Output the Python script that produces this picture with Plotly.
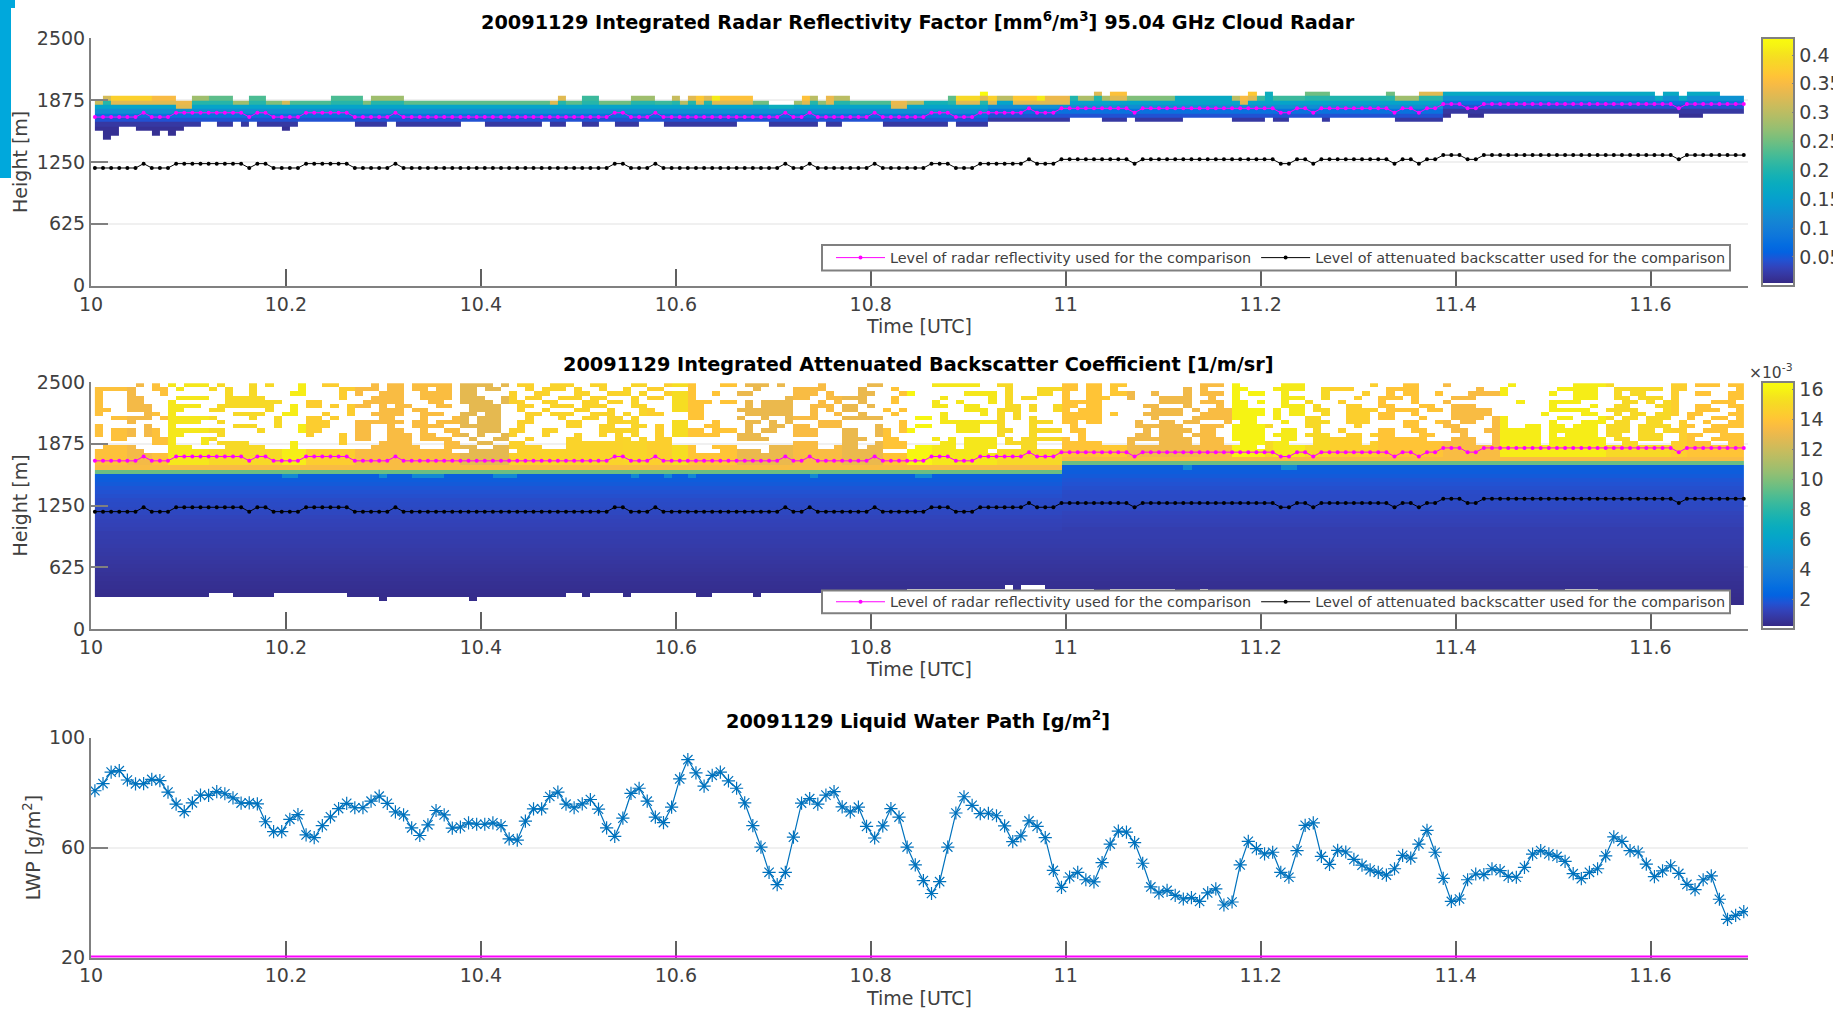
import plotly.graph_objects as go

W, H = 1833, 1009
N_CELLS = 203
TIME_START = 10.004
TIME_STEP = 1 / 120

DATE = "20091129"
X_TICKS = [10, 10.2, 10.4, 10.6, 10.8, 11, 11.2, 11.4, 11.6]
X_LABELS = ["10", "10.2", "10.4", "10.6", "10.8", "11", "11.2", "11.4", "11.6"]
HEIGHT_TICKS = [0, 625, 1250, 1875, 2500]
LWP_TICKS = [20, 60, 100]
CB1_TICKS = [0.05, 0.1, 0.15, 0.2, 0.25, 0.3, 0.35, 0.4]
CB1_LABELS = ["0.05", "0.1", "0.15", "0.2", "0.25", "0.3", "0.35", "0.4"]
CB2_TICKS = [2, 4, 6, 8, 10, 12, 14, 16]

# Liquid water path [g/m2], one value per profile
lwp = [80.7, 83.3, 87.5, 88.0, 84.6, 83.2, 83.3, 84.8, 84.4, 80.2, 75.8, 73.1, 76.3, 79.1, 79.0, 80.4, 79.6, 78.1,
       76.2, 76.3, 75.9, 69.4, 65.8, 65.8, 70.3, 72.0, 64.6, 63.6, 68.0, 71.2, 74.2, 76.1, 74.5, 74.5, 76.9, 78.7,
       76.1, 73.0, 71.9, 67.2, 64.4, 68.3, 73.5, 71.9, 67.1, 67.5, 69.0, 68.5, 68.5, 69.0, 68.0, 63.2, 62.7, 69.6,
       74.1, 74.1, 78.6, 80.2, 75.8, 74.5, 75.9, 77.5, 74.0, 67.2, 64.1, 70.7, 79.7, 81.6, 76.9, 71.1, 69.1, 74.7,
       85.0, 92.0, 87.2, 82.4, 86.3, 87.5, 84.3, 81.6, 76.3, 68.0, 60.2, 51.0, 46.5, 51.0, 63.8, 76.2, 77.8, 75.8,
       79.1, 80.4, 74.8, 73.0, 74.7, 67.7, 63.5, 67.9, 74.2, 71.1, 60.2, 53.7, 48.0, 43.3, 47.6, 60.2, 72.6, 78.5,
       75.4, 72.4, 72.5, 71.6, 67.9, 62.2, 64.3, 69.7, 67.7, 63.6, 51.7, 45.5, 49.3, 51.0, 48.3, 47.5, 54.5, 61.3,
       66.0, 65.6, 61.8, 54.3, 45.7, 43.5, 44.4, 42.6, 41.3, 41.8, 40.4, 43.5, 45.0, 39.1, 40.2, 53.7, 62.3, 59.6,
       57.7, 58.3, 51.0, 49.2, 58.9, 68.1, 69.0, 56.8, 53.9, 59.0, 58.4, 55.7, 53.6, 51.9, 51.0, 50.0, 52.3, 57.2,
       56.2, 61.3, 66.3, 58.3, 48.8, 40.4, 41.3, 48.3, 50.4, 50.2, 52.3, 51.6, 49.5, 49.2, 52.8, 57.6, 58.9, 57.7,
       56.8, 55.0, 50.5, 48.7, 51.0, 52.3, 57.0, 63.9, 62.3, 58.9, 58.4, 54.0, 49.4, 51.5, 53.4, 50.6, 46.6, 44.7,
       48.3, 49.7, 41.2, 33.9, 35.3, 36.7]

# Comparison levels as (height [m], number of profiles)
backscatter_level_runs = [(1188, 6), (1232, 1), (1188, 3), (1232, 9), (1188, 1), (1232, 2), (1188, 4), (1232, 6),
                          (1188, 5), (1232, 1), (1188, 26), (1232, 2), (1188, 3), (1232, 1), (1188, 15), (1232, 1),
                          (1188, 2), (1232, 1), (1188, 7), (1232, 1), (1188, 6), (1232, 3), (1188, 3), (1232, 6),
                          (1275, 1), (1232, 3), (1275, 9), (1232, 1), (1275, 17), (1232, 2), (1275, 2), (1232, 1),
                          (1275, 9), (1232, 1), (1275, 2), (1232, 1), (1275, 2), (1318, 3), (1275, 2), (1318, 24),
                          (1275, 1), (1318, 8)]
reflectivity_level_runs = [(1702, 6), (1746, 1), (1702, 3), (1746, 9), (1702, 1), (1746, 2), (1702, 4), (1746, 6),
                           (1702, 5), (1746, 1), (1702, 26), (1746, 2), (1702, 3), (1746, 1), (1702, 15), (1746, 1),
                           (1702, 2), (1746, 1), (1702, 7), (1746, 1), (1702, 6), (1746, 3), (1702, 3), (1746, 6),
                           (1790, 1), (1746, 3), (1790, 9), (1746, 1), (1790, 17), (1746, 2), (1790, 2), (1746, 1),
                           (1790, 9), (1746, 1), (1790, 2), (1746, 1), (1790, 2), (1833, 3), (1790, 2), (1833, 24),
                           (1790, 1), (1833, 8)]

# Radar panel: per-column cloud top value, top row and bottom row, as (value, columns)
radar_top_value_runs = [(.31, 1), (.32, 1), (.38, 5), (.35, 3), (.34, 2), (.28, 2), (.24, 3), (.28, 2), (.23, 2),
                        (.26, 2), (.32, 1), (.23, 9), (.26, 1), (.28, 4), (.24, 18), (.33, 2), (.24, 2), (.22, 2),
                        (.25, 4), (.28, 3), (.22, 2), (.31, 1), (.30, 1), (.33, 1), (.37, 1), (.33, 1), (.41, 1),
                        (.36, 4), (.25, 2), (.18, 3), (.28, 1), (.36, 1), (.30, 1), (.27, 1), (.34, 1), (.30, 2),
                        (.23, 5), (.34, 2), (.30, 2), (.19, 3), (.24, 1), (.39, 3), (.43, 1), (.38, 1), (.30, 2),
                        (.37, 3), (.41, 1), (.34, 3), (.20, 1), (.29, 2), (.33, 1), (.29, 1), (.36, 2), (.26, 6),
                        (.17, 7), (.30, 1), (.35, 1), (.37, 1), (.22, 1), (.18, 1), (.22, 4), (.25, 3), (.20, 7),
                        (.25, 1), (.28, 3), (.33, 3), (.17, 34), (.13, 3)]
radar_top_row_runs = [(2, 1), (1, 9), (2, 2), (1, 5), (2, 2), (1, 2), (2, 8), (1, 4), (2, 1), (1, 4), (2, 19), (1, 1),
                      (2, 2), (1, 2), (2, 4), (1, 3), (2, 2), (1, 1), (2, 1), (1, 8), (2, 2), (3, 3), (2, 1), (1, 2),
                      (2, 1), (1, 3), (2, 12), (1, 4), (0, 1), (1, 13), (0, 1), (1, 1), (0, 2), (1, 15), (0, 1),
                      (1, 1), (0, 1), (1, 4), (0, 3), (1, 7), (0, 1), (1, 3), (0, 29), (1, 1), (0, 2), (1, 1), (0, 4),
                      (1, 3)]
radar_bottom_row_runs = [(8, 1), (10, 1), (9, 1), (7, 2), (8, 2), (9, 1), (8, 1), (9, 1), (8, 1), (7, 2), (6, 2),
                         (7, 2), (6, 1), (7, 1), (6, 1), (7, 3), (8, 1), (7, 1), (6, 7), (7, 4), (6, 1), (7, 8),
                         (6, 3), (7, 7), (6, 1), (7, 2), (6, 2), (7, 2), (6, 2), (7, 3), (6, 3), (7, 9), (6, 4),
                         (7, 6), (6, 1), (7, 2), (6, 5), (7, 8), (6, 1), (7, 4), (6, 10), (5, 4), (6, 3), (5, 1),
                         (6, 6), (5, 6), (6, 4), (5, 1), (6, 2), (5, 4), (6, 1), (5, 8), (6, 6), (5, 1), (4, 2),
                         (5, 2), (4, 24), (5, 3), (4, 5)]
radar_band_shift_runs = [(0, 110), (1, 56), (3, 37)]
radar_row_profile = [.25, .23, .205, .16, .125, .08, .045, .02, .013, .012, .012, .012, .012, .012]
radar_row_heights = [1936, 1892, 1848, 1804, 1761, 1717, 1673, 1629, 1585, 1541, 1497]

# Lidar panel: aerosol/noise tone per column, sparse rows above the cloud, blue profile below
lidar_tone_runs = [(13.8, 4), (13.3, 3), (13.8, 2), (15.6, 5), (15.0, 9), (15.8, 3), (14.4, 6), (13.5, 7), (13.6, 6),
                   (12.8, 6), (14.6, 4), (14.7, 10), (14.8, 3), (14.5, 3), (15.2, 2), (14.0, 2), (14.0, 4), (13.0, 7),
                   (13.5, 6), (13.0, 5), (14.0, 3), (16.2, 3), (15.6, 8), (15.0, 3), (15.0, 5), (14.0, 5), (14.2, 3),
                   (13.2, 9), (13.5, 4), (16.0, 4), (15.0, 1), (15.7, 4), (15.0, 3), (14.5, 6), (14.0, 8), (13.5, 7),
                   (15.8, 13), (15.0, 8), (14.5, 2), (14.0, 7)]
lidar_bottom_row_runs = [(52, 14), (51, 3), (52, 5), (51, 9), (52, 4), (53, 1), (52, 10), (53, 1), (52, 11), (51, 2),
                         (52, 1), (51, 4), (52, 1), (51, 8), (52, 2), (51, 5), (52, 1), (51, 1), (51, 17), (50, 12),
                         (49, 1), (51, 1), (49, 3), (50, 1), (50, 5), (51, 2), (50, 8), (51, 3), (50, 1), (51, 44),
                         (50, 4), (51, 16), (54, 2)]
lidar_teal_columns = [23, 24, 35, 39, 40, 41, 42, 49, 50, 51, 66, 70, 73, 88, 101, 102, 134, 146, 147]
lidar_blue_profile = [2.15, 2.05, 1.95, 1.8, 1.7, 1.6, 1.5, 1.45, 1.4, 1.35, 1.25, 1.2, 1.15, 1.1, 1.0, .98, .95, .9,
                      .85, .8, .75, .7, .65, .6, .55, .5, .45, .42, .38, .33, .3, .28, .25]
lidar_filled_ranges = [
    [(5,6),(7,8),(9,10),(11,14),(15,16),(19,20),(21,22),(25,26),(28,30),(34,35),(36,38),(39,44),(45,49),(50,51),(52,54),(56,59),(61,63),(66,68),(70,74),(77,79),(80,83),(84,85),(89,90),(95,97),(103,109),(111,113),(119,121),(122,124),(125,127),(136,139),(140,141),(146,149),(157,158),(161,163),(166,167),(174,175),(182,187),(194,196),(197,200),(201,203)],
    [(0,5),(7,9),(10,11),(14,15),(16,17),(19,20),(25,26),(30,35),(36,38),(39,41),(42,44),(45,47),(48,50),(53,54),(55,58),(59,60),(62,63),(65,66),(68,70),(73,74),(81,82),(86,90),(94,95),(98,99),(112,113),(116,121),(122,124),(125,126),(134,135),(136,137),(140,142),(145,149),(151,155),(159,163),(170,171),(173,174),(180,185),(187,193),(194,196),(202,203)],
    [(0,1),(4,5),(8,9),(16,17),(19,20),(24,26),(30,31),(32,33),(35,38),(40,44),(45,47),(51,52),(54,56),(59,61),(63,66),(67,68),(70,74),(76,77),(79,81),(86,89),(90,91),(94,96),(99,101),(107,111),(112,113),(116,118),(119,120),(122,124),(125,128),(130,131),(134,135),(136,139),(140,141),(142,144),(146,147),(151,152),(156,157),(159,160),(161,163),(165,166),(169,174),(179,180),(182,185),(187,188),(189,191),(194,195),(197,199),(201,203)],
    [(0,1),(4,6),(10,14),(16,21),(30,31),(34,38),(40,44),(45,48),(50,52),(53,55),(57,60),(61,63),(66,67),(68,70),(71,74),(85,88),(90,95),(98,99),(104,105),(110,111),(112,113),(114,116),(119,120),(122,125),(127,128),(131,135),(137,138),(140,141),(146,149),(151,152),(155,156),(158,161),(162,163),(167,170),(182,185),(187,189),(190,193),(194,195),(201,203)],
    [(0,1),(4,6),(9,10),(16,23),(26,28),(33,38),(41,43),(45,49),(50,53),(55,57),(60,62),(63,65),(66,67),(71,76),(77,79),(80,81),(82,86),(89,90),(91,92),(94,95),(98,99),(103,104),(106,107),(110,111),(112,113),(119,124),(131,135),(136,139),(140,142),(143,144),(146,147),(149,150),(153,154),(158,159),(162,163),(166,167),(175,176),(179,183),(188,190),(191,192),(193,195),(199,202)],
    [(0,1),(4,7),(9,13),(15,22),(24,25),(26,28),(29,30),(31,34),(35,36),(37,39),(42,44),(46,50),(52,54),(56,59),(60,63),(66,68),(71,75),(80,81),(82,86),(88,91),(92,94),(95,96),(103,105),(107,109),(112,114),(115,116),(118,121),(122,124),(129,131),(134,135),(138,139),(140,142),(146,149),(150,151),(154,156),(158,160),(163,165),(167,170),(179,180),(184,185),(187,189),(192,195),(197,199),(201,203)],
    [(0,2),(4,7),(9,11),(14,16),(21,22),(24,25),(31,32),(35,38),(39,41),(46,50),(52,53),(55,56),(59,61),(63,64),(67,69),(71,75),(79,86),(88,89),(90,91),(92,94),(97,98),(99,100),(107,110),(111,114),(115,116),(118,120),(121,124),(130,134),(135,136),(137,144),(145,146),(147,149),(150,152),(154,158),(159,163),(164,166),(167,172),(179,184),(186,190),(193,195),(197,200),(202,203)],
    [(0,1),(6,8),(9,10),(17,21),(23,25),(28,29),(31,32),(34,38),(40,43),(45,47),(48,50),(53,55),(56,59),(61,64),(65,66),(67,70),(73,75),(80,86),(88,89),(91,92),(94,95),(98,99),(104,105),(109,110),(111,112),(113,114),(119,124),(125,126),(129,134),(136,144),(145,146),(147,149),(151,152),(154,157),(158,160),(162,163),(167,172),(178,179),(183,185),(187,188),(189,191),(192,195),(196,198),(201,203)],
    [(2,7),(8,15),(19,20),(22,23),(26,28),(29,30),(35,37),(40,41),(44,46),(47,50),(53,54),(57,58),(60,62),(63,65),(66,67),(73,75),(79,80),(82,83),(85,89),(92,97),(101,103),(104,105),(111,112),(113,114),(115,116),(119,124),(130,131),(135,143),(145,146),(149,151),(154,157),(158,160),(163,164),(167,171),(172,174),(180,182),(185,187),(188,190),(191,194),(196,197),(199,201),(202,203)],
    [(4,5),(9,13),(15,16),(22,23),(26,29),(32,38),(39,41),(42,46),(47,50),(52,54),(58,60),(63,67),(71,73),(76,77),(80,82),(83,84),(85,86),(89,92),(99,100),(104,112),(115,118),(119,121),(122,124),(128,129),(131,133),(134,136),(139,140),(141,143),(146,147),(149,152),(154,157),(161,163),(165,167),(168,170),(172,174),(179,180),(183,186),(187,189),(191,193),(195,196),(198,199),(201,203)],
    [(0,1),(6,7),(9,10),(17,20),(22,23),(25,29),(32,34),(36,37),(39,43),(45,50),(52,53),(58,60),(62,64),(66,68),(69,70),(71,73),(75,77),(80,81),(83,85),(86,88),(89,92),(96,97),(99,100),(101,103),(106,109),(111,112),(115,116),(120,121),(128,134),(136,139),(140,145),(149,151),(155,156),(161,163),(166,168),(172,174),(176,178),(179,181),(182,185),(186,189),(190,194),(195,197),(199,203)],
    [(0,1),(2,5),(6,8),(9,16),(20,21),(25,28),(32,34),(36,38),(40,41),(43,45),(47,50),(51,53),(55,57),(62,67),(69,70),(71,75),(76,79),(80,81),(82,84),(86,89),(92,94),(96,98),(99,101),(106,109),(111,113),(115,119),(120,122),(129,130),(131,135),(136,138),(140,144),(146,148),(150,151),(153,154),(158,160),(162,164),(167,169),(171,178),(179,185),(186,189),(190,192),(193,196),(198,201)],
    [(0,1),(2,5),(6,8),(9,11),(15,16),(26,27),(30,31),(32,34),(36,39),(40,42),(44,46),(47,48),(50,52),(55,56),(59,60),(62,63),(64,65),(66,67),(69,70),(71,77),(79,82),(86,89),(92,94),(96,98),(111,112),(115,116),(121,122),(128,130),(131,134),(135,138),(140,144),(145,148),(149,152),(154,156),(157,160),(163,165),(168,169),(172,178),(179,180),(181,185),(186,188),(190,193),(195,198),(200,203)],
    [(2,4),(7,10),(13,15),(30,31),(32,34),(36,39),(40,44),(46,47),(49,51),(53,54),(58,60),(64,66),(67,68),(69,71),(79,83),(92,95),(97,99),(103,104),(105,106),(107,111),(112,113),(114,120),(121,122),(127,135),(136,139),(140,144),(146,148),(150,156),(158,164),(167,170),(172,178),(179,186),(187,189),(190,193),(195,197),(199,203)],
    [(7,10),(13,14),(15,19),(24,25),(30,31),(35,39),(43,45),(47,49),(51,53),(58,71),(86,89),(92,94),(96,100),(104,106),(107,111),(112,116),(119,124),(127,128),(131,135),(136,139),(141,147),(150,156),(157,170),(172,178),(179,186),(188,190),(194,199),(201,203)],
    [(1,5),(9,12),(16,21),(24,25),(34,40),(43,47),(49,55),(58,74),(76,79),(83,89),(91,94),(95,100),(101,106),(107,111),(114,116),(119,143),(144,203)],
    [(0,6),(9,44),(46,51),(52,74),(77,82),(83,97),(100,110),(111,203)],
]

POS_LEFT, POS_RIGHT = 91, 1748
PANELS = [(38, 285.7), (382, 629), (737.7, 957.5)]

PARULA = [(.2081,.1663,.5292),(.2123,.2138,.6270),(.1959,.2645,.7279),(.1253,.3242,.8303),(.0117,.3875,.8820),(.0165,.4266,.8786),
          (.0498,.4586,.8641),(.0723,.4887,.8467),(.0793,.5200,.8312),(.0641,.5570,.8240),(.0343,.5966,.8199),(.0239,.6287,.8038),
          (.0228,.6535,.7768),(.0384,.6743,.7436),(.0843,.6928,.7062),(.1453,.7098,.6646),(.2178,.7250,.6193),(.3022,.7376,.5712),
          (.3953,.7459,.5244),(.4871,.7491,.4840),(.5709,.7485,.4494),(.6473,.7456,.4188),(.7184,.7411,.3905),(.7858,.7356,.3633),
          (.8507,.7299,.3360),(.9139,.7258,.3063),(.9739,.7314,.2666),(.9990,.7653,.2164),(.9880,.8066,.1794),(.9697,.8481,.1475),
          (.9589,.8949,.1132),(.9661,.9514,.0755),(.9763,.9831,.0538)]


def rgb(c):
    return "rgb(%d,%d,%d)" % tuple(round(v * 255) for v in c)


WHITE_END = 0.013
colorscale = [[0, "white"], [WHITE_END, "white"]]
for k, c in enumerate(PARULA):
    colorscale.append([WHITE_END + 0.0001 + (1 - WHITE_END - 0.0001) * k / (len(PARULA) - 1), rgb(c)])


def expand(runs):
    out = []
    for v, n in runs:
        out += [v] * n
    return out


times = [TIME_START + i * TIME_STEP for i in range(len(lwp))]
centers = [TIME_START + (i + .5) * TIME_STEP for i in range(N_CELLS)]
refl_level = expand(reflectivity_level_runs)
back_level = expand(backscatter_level_runs)

# radar grid
r_tone, r_top, r_bot = expand(radar_top_value_runs), expand(radar_top_row_runs), expand(radar_bottom_row_runs)
r_shift = expand(radar_band_shift_runs)
radar = [[None] * N_CELLS for _ in radar_row_heights]
for c in range(N_CELLS):
    for t in range(r_top[c], r_bot[c] + 1):
        v = radar_row_profile[t + r_shift[c]]
        if t == r_top[c]:
            v = r_tone[c]
        elif t == r_top[c] + 1 and r_tone[c] >= .34:
            v = .33
        radar[t][c] = min(v, r_tone[c])

# lidar grid
LID_ROWS = 55
LID_TOP, LID_DH = 2487, 41.5
l_tone, l_bot = expand(lidar_tone_runs), expand(lidar_bottom_row_runs)
lidar_heights = [LID_TOP - LID_DH * (r + .5) for r in range(LID_ROWS)]
lidar = [[None] * N_CELLS for _ in range(LID_ROWS)]
for c in range(N_CELLS):
    step_up = 2 if c >= 119 else 0
    for r in range(LID_ROWS):
        if r >= l_bot[c]:
            continue
        if r < len(lidar_filled_ranges):
            if not any(a <= c < b for a, b in lidar_filled_ranges[r]):
                continue
            lidar[r][c] = l_tone[c]
        elif r < 20 - step_up:
            lidar[r][c] = l_tone[c]
        elif r == 20 - step_up:
            lidar[r][c] = 13.5
        elif r == 21 - step_up:
            lidar[r][c] = 9.5
        elif r == 22 - step_up and c in lidar_teal_columns:
            lidar[r][c] = 4.5
        else:
            up = step_up if r < 28 else (1 if step_up and r < 36 else 0)
            lidar[r][c] = lidar_blue_profile[min(r + up - 22, len(lidar_blue_profile) - 1)]


def dom_x(a, b):
    return [a / W, b / W]


def dom_y(top, bot):
    return [1 - bot / H, 1 - top / H]


fig = go.Figure()
AX = "#808080"
TXT = "#404040"
FONT = "DejaVu Sans"
TICK = dict(family=FONT, size=19, color=TXT)
TITLE = dict(family=FONT, size=19, color=TXT)

fig.add_trace(go.Heatmap(x=centers, y=radar_row_heights, z=radar, zmin=0, zmax=.43, colorscale=colorscale,
                         xaxis="x", yaxis="y", hoverongaps=False,
                         colorbar=dict(x=1761.6 / W, xanchor="left", xpad=0, thickness=32, thicknessmode="pixels",
                                       y=1 - 285.7 / H, yanchor="bottom", ypad=0, len=247.7 / H,
                                       tickvals=CB1_TICKS, ticktext=CB1_LABELS, ticks="inside", ticklen=3,
                                       tickcolor=AX, outlinecolor=AX, outlinewidth=2, tickfont=TICK)))
fig.add_trace(go.Heatmap(x=centers, y=lidar_heights, z=lidar, zmin=0, zmax=16.5, colorscale=colorscale,
                         xaxis="x2", yaxis="y2", hoverongaps=False,
                         colorbar=dict(x=1761.6 / W, xanchor="left", xpad=0, thickness=32, thicknessmode="pixels",
                                       y=1 - 629 / H, yanchor="bottom", ypad=0, len=247 / H,
                                       tickvals=CB2_TICKS, ticks="inside", ticklen=3,
                                       tickcolor=AX, outlinecolor=AX, outlinewidth=2, tickfont=TICK)))

REF_NAME = "Level of radar reflectivity used for the comparison"
BACK_NAME = "Level of attenuated backscatter used for the comparison"
for xa, ya, lg in (("x", "y", "legend"), ("x2", "y2", "legend2")):
    fig.add_trace(go.Scatter(x=times, y=refl_level, name=REF_NAME, mode="lines+markers", xaxis=xa, yaxis=ya, legend=lg,
                             line=dict(color="#FF00FF", width=1), marker=dict(color="#FF00FF", size=4)))
    fig.add_trace(go.Scatter(x=times, y=back_level, name=BACK_NAME, mode="lines+markers", xaxis=xa, yaxis=ya, legend=lg,
                             line=dict(color="black", width=1), marker=dict(color="black", size=4)))

fig.add_trace(go.Scatter(x=times, y=lwp, mode="lines+markers", xaxis="x3", yaxis="y3", showlegend=False,
                         line=dict(color="#0072BD", width=1.2),
                         marker=dict(symbol="asterisk-open", size=11, color="#0072BD",
                                     line=dict(color="#0072BD", width=1.2))))
fig.add_trace(go.Scatter(x=[10, 11.7], y=[20, 20], mode="lines", xaxis="x3", yaxis="y3", showlegend=False,
                         cliponaxis=False, line=dict(color="#FF00FF", width=4)))

x_common = dict(range=[10, 11.7], tickvals=X_TICKS, ticktext=X_LABELS, ticks="inside", ticklen=17, tickcolor="#606060",
                tickwidth=1.5, tickfont=TICK, showline=True, linecolor=AX, linewidth=2, showgrid=False, zeroline=False,
                domain=dom_x(POS_LEFT, POS_RIGHT), title=dict(text="Time [UTC]", font=TITLE, standoff=6))
y_common = dict(ticks="inside", ticklen=17, tickcolor=AX, tickwidth=2, tickfont=TICK, showline=True, linecolor=AX,
                linewidth=2, showgrid=True, gridcolor="#F0F0F0", gridwidth=2, zeroline=False)

layout = dict(
    width=W, height=H, autosize=False, paper_bgcolor="white", plot_bgcolor="white",
    margin=dict(l=0, r=0, t=0, b=0, autoexpand=False), showlegend=True,
    xaxis=dict(x_common, anchor="y"), xaxis2=dict(x_common, anchor="y2"),
    xaxis3=dict(x_common, anchor="y3", layer="below traces"),
    yaxis=dict(y_common, anchor="x", range=[0, 2500], tickvals=HEIGHT_TICKS, domain=dom_y(*PANELS[0]),
               title=dict(text="Height [m]", font=TITLE, standoff=4)),
    yaxis2=dict(y_common, anchor="x2", range=[0, 2500], tickvals=HEIGHT_TICKS, domain=dom_y(*PANELS[1]),
                title=dict(text="Height [m]", font=TITLE, standoff=4)),
    yaxis3=dict(y_common, anchor="x3", range=[20, 100], tickvals=LWP_TICKS, domain=dom_y(*PANELS[2]),
                title=dict(text="LWP [g/m<sup>2</sup>]", font=TITLE, standoff=3)),
)
lg_common = dict(orientation="h", xanchor="right", yanchor="middle", x=1731 / W, bgcolor="rgba(0,0,0,0)", borderwidth=0,
                 font=dict(family=FONT, size=14.4, color=TXT), itemwidth=49, tracegroupgap=0,
                 itemclick=False, itemdoubleclick=False)
LEGEND_BOXES = [(245, 270.5), (590.5, 613.3)]
layout["legend"] = dict(lg_common, y=1 - sum(LEGEND_BOXES[0]) / 2 / H)
layout["legend2"] = dict(lg_common, y=1 - sum(LEGEND_BOXES[1]) / 2 / H)
fig.update_layout(**layout)


def title(text, ypx):
    fig.add_annotation(text="<b>%s</b>" % text, xref="paper", yref="paper", x=918 / W, y=1 - ypx / H,
                       xanchor="center", yanchor="middle", showarrow=False,
                       font=dict(family=FONT, size=19.3, color="black"))


title(DATE + " Integrated Radar Reflectivity Factor [mm<sup>6</sup>/m<sup>3</sup>] 95.04 GHz Cloud Radar", 21)
title(DATE + " Integrated Attenuated Backscatter Coefficient [1/m/sr]", 365)
title(DATE + " Liquid Water Path [g/m<sup>2</sup>]", 720)
fig.add_annotation(text="×10<sup>-3</sup>", xref="paper", yref="paper", x=1747 / W, y=1 - 372 / H, xanchor="left",
                   yanchor="middle", showarrow=False, font=dict(family=FONT, size=15.5, color=TXT))

for top, bot in LEGEND_BOXES:
    fig.add_shape(type="rect", xref="paper", yref="paper", x0=822 / W, x1=1730 / W, y0=1 - bot / H, y1=1 - top / H,
                  fillcolor="white", line=dict(color=AX, width=2), layer="above")

# Decorative cyan strip at the left edge of the screenshot
fig.add_shape(type="rect", xref="paper", yref="paper", x0=0, x1=11 / W, y0=1 - 178 / H, y1=1, fillcolor="#00A8DC",
              line_width=0, layer="above")
fig.add_shape(type="rect", xref="paper", yref="paper", x0=0, x1=15 / W, y0=1 - 8 / H, y1=1, fillcolor="#00A8DC",
              line_width=0, layer="above")

fig.write_html("out.html", config={"displayModeBar": False},
               post_script="document.body.style.margin='0';document.body.style.overflow='hidden';")
